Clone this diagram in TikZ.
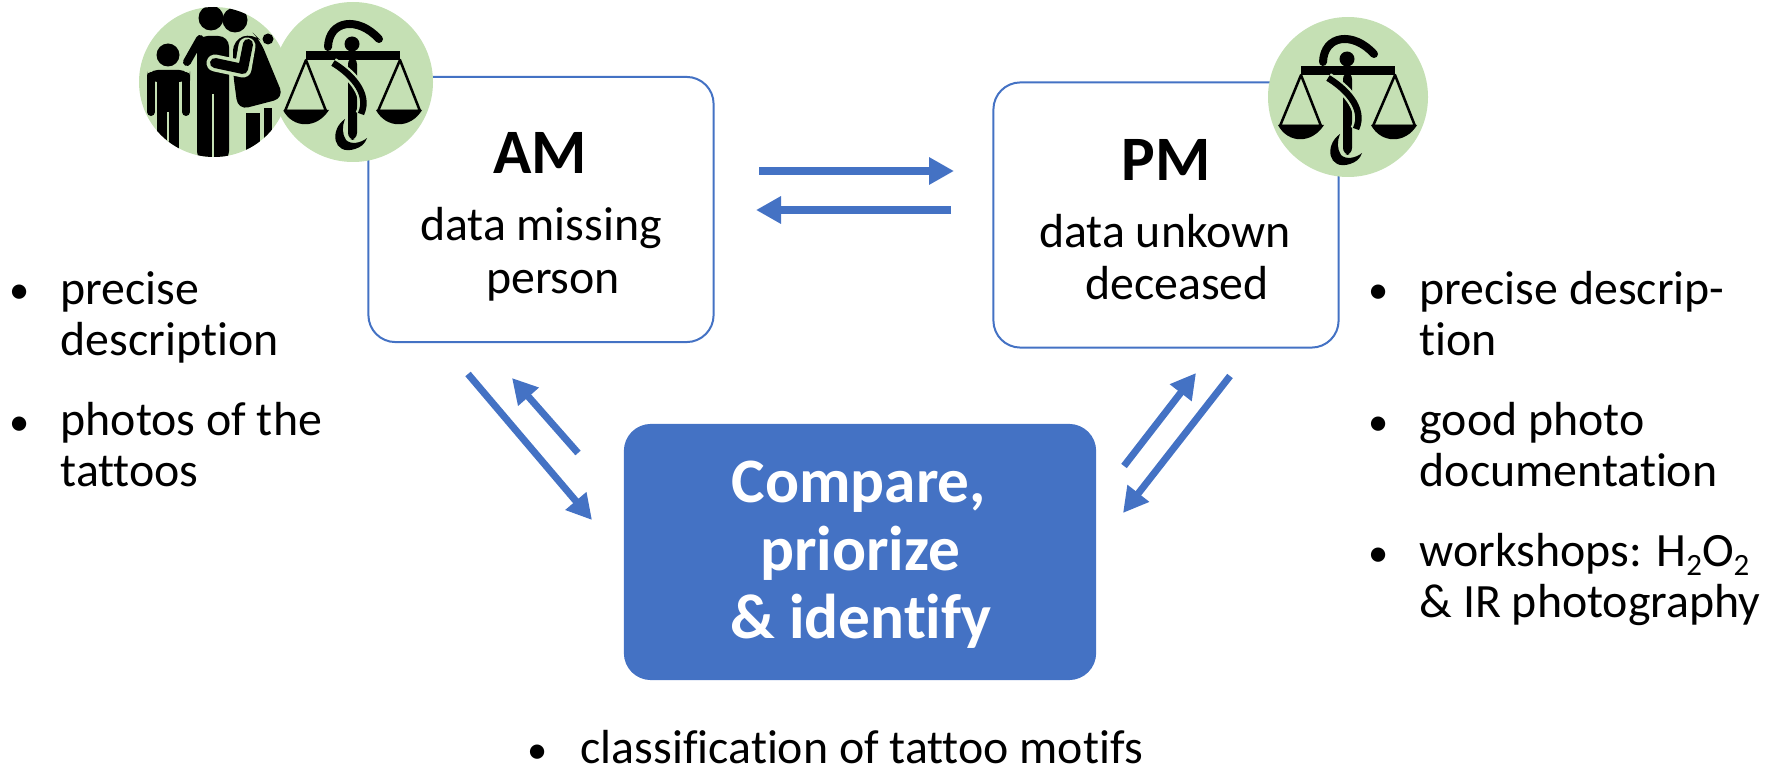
\documentclass[tikz,border=0pt]{standalone}
\usepackage{fontspec}
\setmainfont{Carlito}[Ligatures=NoCommon]
\usetikzlibrary{arrows.meta}
\definecolor{boxblue}{HTML}{4472C4}
\definecolor{icongreen}{HTML}{C5E0B4}
\newcommand{\lowtwo}{\raisebox{-0.4ex}{\fontsize{8.8}{10}\selectfont 2}}
\tikzset{
  flow/.style={draw=boxblue,line width=0.07cm,-{Triangle[length=0.25cm,width=0.26cm]}},
  databox/.style={draw=boxblue,line width=0.02cm,fill=white,rounded corners=0.27cm,inner sep=0pt},
  comparebox/.style={fill=boxblue,rounded corners=0.27cm,inner sep=0pt},
  boxtitle/.style={anchor=base,inner sep=0pt,font=\fontsize{18}{21}\selectfont\bfseries},
  boxtext/.style={anchor=base,inner sep=0pt,font=\fontsize{13.6}{16}\selectfont},
  comparetext/.style={anchor=base,inner sep=0pt,text=white,font=\fontsize{18}{21}\selectfont\bfseries},
  itemtext/.style={anchor=base west,inner sep=0pt,align=left,font=\fontsize{13.6}{14.5}\selectfont},
  bulletmark/.style={anchor=base,inner sep=0pt,font=\fontsize{11.5}{14.5}\selectfont},
  scales icon/.pic={
    \fill[icongreen] (0,0) circle (80);
    \fill[black] (-47,-31) rectangle (47,-22);
    \fill[black,rounded corners=2pt] (-5,-25) rectangle (4,58);
    \fill[black] (-1,-38) circle (7.5);
    \draw[black,line width=0.08cm,line cap=round] (-25,-35) .. controls (-24,-62) and (5,-66) .. (26,-43);
    \draw[icongreen,line width=0.11cm] (-20,-19) .. controls (-5,-10) and (18,10) .. (8,32);
    \draw[black,line width=0.065cm] (-20,-19) .. controls (-5,-10) and (18,10) .. (8,32);
    \fill[black] (-8,37) .. controls (-24,48) and (-20,74) .. (2,67) .. controls (8,65) and (12,62) .. (14,56) .. controls (8,61) and (-2,63) .. (-7,58) .. controls (-11,52) and (-11,44) .. (-8,37) -- cycle;
    \draw[black,line width=0.025cm,line join=round] (-68,29) -- (-47,-22) -- (-27,29) -- cycle;
    \draw[black,line width=0.025cm,line join=round] (25,29) -- (47,-22) -- (67,29) -- cycle;
    \fill[black] (-70,28) .. controls (-60,47) and (-36,47) .. (-24,28) -- cycle;
    \fill[black] (23,28) .. controls (33,47) and (58,47) .. (69,28) -- cycle;
  },
  family icon/.pic={
    \fill[icongreen] (2,0) circle (75);
    \begin{scope}
    \clip (2,0) circle (75);
    % child
    \fill[black] (-44,-27) circle (11.5);
    \fill[black,rounded corners=3pt] (-65,-12) rectangle (-22,0);
    \fill[black] (-55,-8) rectangle (-33,80);
    \draw[black,line width=0.08cm,line cap=round] (-61,-6) -- (-61,30);
    \draw[black,line width=0.08cm,line cap=round] (-26,-6) -- (-26,30);
    \draw[icongreen,line width=0.02cm] (-44,30) -- (-44,80);
    % father
    \fill[black] (-1,-64) circle (12.5);
    \fill[black,rounded corners=3pt] (-15,-46) rectangle (17,80);
    \draw[black,line width=0.08cm,line cap=round] (-12,-43) -- (-25,-20);
    \draw[icongreen,line width=0.02cm] (1,12) -- (1,80);
    % mother
    \fill[black] (23,-62) circle (12.5);
    \fill[black,rounded corners=3pt] (21,-42) -- (41,-49) -- (48,-42) -- (72,16) -- (26,28) -- (21,-9) -- cycle;
    \fill[black] (56,-43) circle (5.5);
    \fill[black] (34,31) rectangle (48,80);
    \fill[black] (52,26) rectangle (60,80);
    \draw[icongreen,line width=0.17cm,line cap=round,line join=round] (3,-19) -- (31,-13) -- (35,-36);
    \draw[black,line width=0.1cm,line cap=round,line join=round] (3,-19) -- (31,-13) -- (36,-38);
    \end{scope}
  }
}

\begin{document}
\begin{tikzpicture}[x=0.01cm,y=-0.01cm]
\useasboundingbox (0,0) rectangle (1770,770);

\node[databox,minimum width=3.45cm,minimum height=2.65cm] (amBox) at (541,209.5) {};
\node[databox,minimum width=3.45cm,minimum height=2.65cm] (pmBox) at (1166,215) {};
\node[comparebox,minimum width=4.72cm,minimum height=2.56cm] (compareBox) at (860,552) {};

\pic at (353,82) {scales icon};
\pic at (212,82) {family icon};
\pic at (1348,97) {scales icon};

\node[boxtitle] (amTitle) at (540,173) {AM};
\node[boxtext] (amLineA) at (541,241) {data missing};
\node[boxtext] (amLineB) at (553,293) {person};
\node[boxtitle] (pmTitle) at (1166,180) {PM};
\node[boxtext] (pmLineA) at (1165,247) {data unkown};
\node[boxtext] (pmLineB) at (1177,299) {deceased};

\node[comparetext] (compareA) at (859,502) {Compare,};
\node[comparetext] (compareB) at (860,570) {priorize};
\node[comparetext] (compareC) at (861,638) {\& identify};

% connectors
\coordinate (amOutStart) at (759,171);
\coordinate (amOutEnd) at (954,171);
\coordinate (pmOutStart) at (951,210);
\coordinate (pmOutEnd) at (756,210);
\coordinate (amDownStart) at (468,374);
\coordinate (amDownEnd) at (592,520);
\coordinate (amUpStart) at (578,453);
\coordinate (amUpEnd) at (512,378);
\coordinate (pmDownStart) at (1230,376);
\coordinate (pmDownEnd) at (1123,513);
\coordinate (pmUpStart) at (1124,466);
\coordinate (pmUpEnd) at (1196,373);

\draw[flow] (amOutStart) -- (amOutEnd);
\draw[flow] (pmOutStart) -- (pmOutEnd);
\draw[flow] (amDownStart) -- (amDownEnd);
\draw[flow] (amUpStart) -- (amUpEnd);
\draw[flow] (pmDownStart) -- (pmDownEnd);
\draw[flow] (pmUpStart) -- (pmUpEnd);

% left list
\node[bulletmark] (leftBulletA) at (20,303) {•};
\node[itemtext] (leftItemA) at (60,355) {precise\\description};
\node[bulletmark] (leftBulletB) at (20,435) {•};
\node[itemtext] (leftItemB) at (60,486) {photos of the\\tattoos};

% right list
\node[bulletmark] (rightBulletA) at (1379,303) {•};
\node[itemtext] (rightItemA) at (1419,355) {precise descrip-\\tion};
\node[bulletmark] (rightBulletB) at (1379,435) {•};
\node[itemtext] (rightItemB) at (1419,486) {good photo\\documentation};
\node[bulletmark] (rightBulletC) at (1379,566) {•};
\node[itemtext] (rightItemC) at (1419,617) {workshops: H\lowtwo O\lowtwo\\\& IR photography};

% bottom list
\node[bulletmark] (bottomBullet) at (538,763) {•};
\node[itemtext] (bottomItem) at (580,763) {classification of tattoo motifs};

\end{tikzpicture}
\end{document}
